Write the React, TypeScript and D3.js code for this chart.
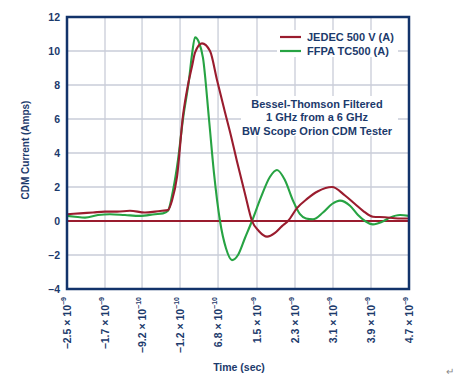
import React from "react";
import * as d3 from "d3";

const W = 471;
const H = 377;

const yTicks = [-4, -2, 0, 2, 4, 6, 8, 10, 12];
const xTickValues = [-2.5, -1.7, -0.92, -0.12, 0.68, 1.5, 2.3, 3.1, 3.9, 4.7];
const xTickMantissa = ["−2.5", "−1.7", "−9.2", "−1.2", "6.8", "1.5", "2.3", "3.1", "3.9", "4.7"];
const xTickExponent = ["−9", "−9", "−10", "−10", "−10", "−9", "−9", "−9", "−9", "−9"];

// time in ns, current in A
const jedecT = [-2.5, -2.226, -1.953, -1.7, -1.447, -1.174, -0.858, -0.647, -0.5, -0.374, -0.29, -0.184, -0.058, 0.047, 0.132, 0.195, 0.342, 0.511, 0.658, 0.826, 0.953, 1.079, 1.247, 1.395, 1.542, 1.711, 1.879, 2.026, 2.153, 2.342, 2.553, 2.784, 3.079, 3.353, 3.563, 3.732, 3.942, 4.195, 4.468, 4.7];
const jedecV = [0.4, 0.45, 0.5, 0.55, 0.55, 0.6, 0.5, 0.55, 0.6, 0.65, 1.2, 2.6, 6.2, 8.0, 9.1, 9.9, 10.45, 10.0, 8.3, 6.4, 5.0, 3.5, 1.6, 0, -0.6, -0.92, -0.7, -0.3, 0, 0.76, 1.3, 1.75, 2.0, 1.5, 1.0, 0.6, 0.25, 0.22, 0.15, 0.15];

const ffpaT = [-2.5, -2.332, -2.121, -1.847, -1.595, -1.279, -0.963, -0.647, -0.479, -0.374, -0.268, -0.163, -0.058, 0.068, 0.132, 0.195, 0.279, 0.363, 0.489, 0.595, 0.721, 0.847, 0.974, 1.1, 1.247, 1.395, 1.584, 1.774, 1.921, 2.089, 2.258, 2.405, 2.532, 2.679, 2.889, 3.079, 3.247, 3.458, 3.626, 3.774, 3.942, 4.132, 4.3, 4.511, 4.7];
const ffpaV = [0.3, 0.25, 0.2, 0.35, 0.4, 0.35, 0.3, 0.4, 0.45, 0.6, 1.8, 3.6, 6.0, 8.3, 9.8, 10.8, 10.5, 9.6, 6.0, 2.8, 0, -1.6, -2.3, -2.0, -1.0, 0, 1.4, 2.6, 3.0, 2.4, 1.2, 0.4, 0.15, 0.1, 0.5, 1.0, 1.2, 0.9, 0.35, 0, -0.2, -0.05, 0.2, 0.35, 0.3];

const legendLabels = ["JEDEC 500 V (A)", "FFPA TC500 (A)"];
const noteLines = ["Bessel-Thomson Filtered", "1 GHz from a 6 GHz", "BW Scope Orion CDM Tester"];

const RED = "#9a1c2e";
const GREEN = "#27a343";
const NAVY = "#12336a";
const TEXT = "#1c3a6c";
const GRID = "#c9cdd8";
const FONT = "'Liberation Sans', Arial, sans-serif";

export default function App() {
  const left = 67, right = 409, top = 17, bottom = 289;
  const x = d3.scaleLinear().domain([-2.5, 4.7]).range([left, right]);
  const y = d3.scaleLinear().domain([-4, 12]).range([bottom, top]);

  const line = d3
    .line<[number, number]>()
    .x((d) => x(d[0]))
    .y((d) => y(d[1]))
    .curve(d3.curveMonotoneX);

  const jedec = jedecT.map((t, i) => [t, jedecV[i]] as [number, number]);
  const ffpa = ffpaT.map((t, i) => [t, ffpaV[i]] as [number, number]);

  return (
    <svg width={W} height={H} style={{ position: "absolute", left: 0, top: 0 }} fontFamily={FONT}>
      <rect width={W} height={H} fill="#fff" />
      {/* grid */}
      {yTicks.map((v) => (
        <line key={"h" + v} x1={left} x2={right} y1={y(v)} y2={y(v)} stroke={GRID} strokeWidth={1.3} />
      ))}
      {xTickValues.map((v) => (
        <line key={"v" + v} x1={x(v)} x2={x(v)} y1={top} y2={bottom} stroke={GRID} strokeWidth={1.3} />
      ))}
      {/* legend and note backgrounds */}
      <rect x={277} y={30} width={121} height={27} fill="#fff" />
      <rect x={241} y={96} width={157} height={40} fill="#fff" />

      {/* zero reference line */}
      <line x1={left} x2={right} y1={y(0)} y2={y(0)} stroke={RED} strokeWidth={2} />

      <path d={line(ffpa) ?? ""} fill="none" stroke={GREEN} strokeWidth={2.1} />
      <path d={line(jedec) ?? ""} fill="none" stroke={RED} strokeWidth={2.1} />

      {/* frame */}
      <rect x={left} y={top} width={right - left} height={bottom - top} fill="none" stroke={NAVY} strokeWidth={2.5} />

      {/* y ticks */}
      {yTicks.map((v) => (
        <text key={"yt" + v} x={60} y={y(v)} dy="0.36em" textAnchor="end" fontSize={10.5} fontWeight="bold" fill={TEXT}>
          {v < 0 ? "–" + Math.abs(v) : v}
        </text>
      ))}

      {/* x ticks */}
      {xTickValues.map((v, i) => (
        <text
          key={"xt" + v}
          transform={`translate(${x(v)},297) rotate(-90)`}
          textAnchor="end"
          dy="0.36em"
          fontSize={10.5}
          fontWeight="bold"
          fill={TEXT}
        >
          {xTickMantissa[i] + " × 10"}
          <tspan fontSize={7} dy="-0.7em">{xTickExponent[i]}</tspan>
        </text>
      ))}

      {/* axis titles */}
      <text transform="translate(25,150) rotate(-90)" textAnchor="middle" dy="0.36em" fontSize={10} fontWeight="bold" fill={TEXT}>
        CDM Current (Amps)
      </text>
      <text x={239} y={367} dy="0.36em" textAnchor="middle" fontSize={10.5} fontWeight="bold" fill={TEXT}>
        Time (sec)
      </text>

      {/* legend */}
      {legendLabels.map((lab, i) => (
        <g key={lab}>
          <line x1={280} x2={301} y1={37 + i * 14} y2={37 + i * 14} stroke={i === 0 ? RED : GREEN} strokeWidth={2.2} />
          <text x={307} y={37 + i * 14} dy="0.36em" fontSize={11} fontWeight="bold" fill={TEXT}>
            {lab}
          </text>
        </g>
      ))}

      {/* annotation */}
      {noteLines.map((s, i) => (
        <text key={s} x={317} y={104 + i * 13.3} dy="0.36em" textAnchor="middle" fontSize={11} fontWeight="bold" fill={TEXT}>
          {s}
        </text>
      ))}

      <text x={450} y={375} textAnchor="middle" fontSize={10} fill="#888">↵</text>
    </svg>
  );
}
